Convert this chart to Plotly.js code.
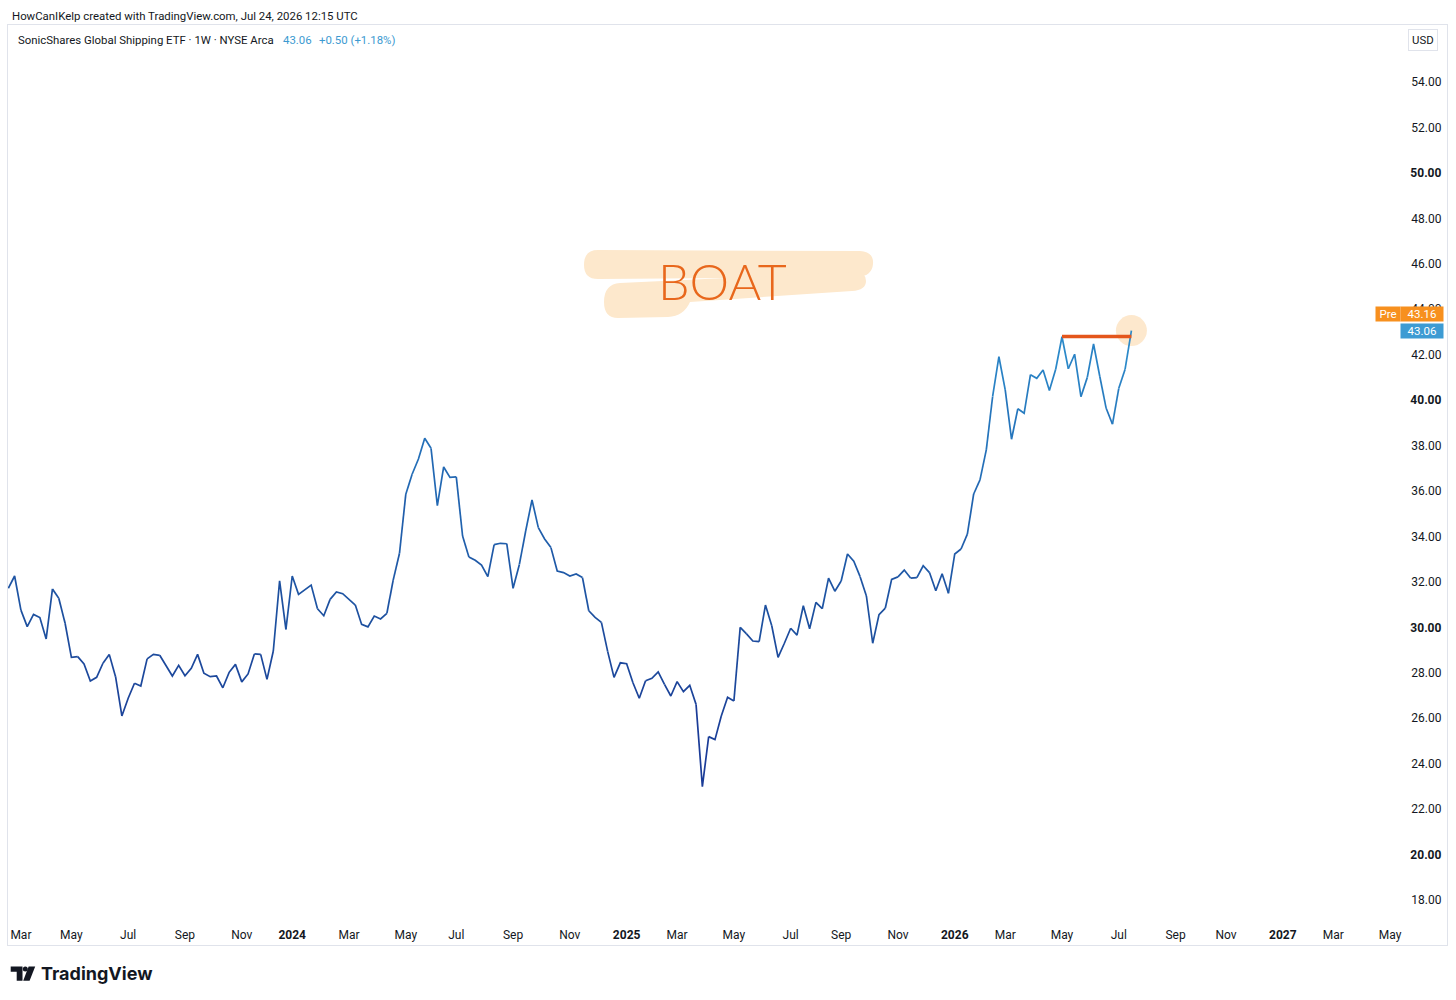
<!DOCTYPE html>
<html>
<head>
<meta charset="utf-8">
<script src="https://cdn.plot.ly/plotly-3.0.1.min.js"></script>
<style>
  html, body { margin: 0; padding: 0; background: #ffffff; }
  #chart { width: 1456px; height: 1000px; }
</style>
</head>
<body>
<div id="chart"></div>
<script>
// ---- Data (weekly closes) ----
const startDate = '2023-02-20'; // first weekly bar (Monday)
const prices = [
  31.72, 32.26, 30.76, 30.03, 30.57, 30.43, 29.49, 31.69, 31.28, 30.18,
  28.68, 28.71, 28.39, 27.64, 27.80, 28.42, 28.81, 27.83, 26.10, 26.88,
  27.54, 27.42, 28.61, 28.81, 28.77, 28.31, 27.86, 28.33, 27.87, 28.20,
  28.81, 27.98, 27.83, 27.86, 27.34, 28.02, 28.37, 27.60, 27.95, 28.83,
  28.81, 27.71, 28.96, 32.05, 29.91, 32.26, 31.45, 31.64, 31.86, 30.82,
  30.51, 31.23, 31.56, 31.48, 31.25, 30.98, 30.13, 30.02, 30.50, 30.37,
  30.62, 32.08, 33.26, 35.86, 36.74, 37.41, 38.32, 37.88, 35.36, 37.06,
  36.60, 36.62, 34.02, 33.10, 32.95, 32.74, 32.23, 33.64, 33.70, 33.68,
  31.72, 32.77, 34.24, 35.61, 34.39, 33.89, 33.51, 32.48, 32.41, 32.26,
  32.35, 32.19, 30.73, 30.44, 30.22, 28.93, 27.80, 28.44, 28.40, 27.56,
  26.88, 27.65, 27.76, 28.04, 27.49, 26.98, 27.61, 27.17, 27.45, 26.61,
  22.99, 25.19, 25.06, 26.10, 26.92, 26.76, 30.00, 29.71, 29.40, 29.37,
  30.98, 30.07, 28.68, 29.30, 29.96, 29.66, 30.95, 29.94, 31.10, 30.82,
  32.17, 31.59, 32.04, 33.23, 32.91, 32.23, 31.38, 29.30, 30.56, 30.85,
  32.11, 32.22, 32.52, 32.17, 32.19, 32.71, 32.41, 31.61, 32.36, 31.50,
  33.23, 33.45, 34.10, 35.87, 36.49, 37.81, 40.15, 41.91, 40.45, 38.28,
  39.62, 39.42, 41.12, 40.96, 41.33, 40.42, 41.36, 42.79, 41.38, 42.02,
  40.15, 40.99, 42.47, 41.03, 39.64, 38.94, 40.52, 41.36, 43.06
];
const lastPrice = 43.06;
const prePrice = 43.16;
const changeText = '+0.50 (+1.18%)';
const resistanceLevel = 42.8;
const resistanceStartIndex = 167;

const xTickVals = [
  '2023-03-06','2023-05-01','2023-07-03','2023-09-04','2023-11-06',
  '2024-01-01','2024-03-04','2024-05-06','2024-07-01','2024-09-02','2024-11-04',
  '2025-01-06','2025-03-03','2025-05-05','2025-07-07','2025-09-01','2025-11-03',
  '2026-01-05','2026-03-02','2026-05-04','2026-07-06','2026-09-07','2026-11-02',
  '2027-01-04','2027-03-01','2027-05-03'
];
const xTickText = [
  'Mar','May','Jul','Sep','Nov',
  '<b>2024</b>','Mar','May','Jul','Sep','Nov',
  '<b>2025</b>','Mar','May','Jul','Sep','Nov',
  '<b>2026</b>','Mar','May','Jul','Sep','Nov',
  '<b>2027</b>','Mar','May'
];
const yTickVals = [18,20,22,24,26,28,30,32,34,36,38,40,42,44,46,48,50,52,54];
const yTickText = [
  '18.00','<b>20.00</b>','22.00','24.00','26.00','28.00','<b>30.00</b>','32.00',
  '34.00','36.00','38.00','<b>40.00</b>','42.00','44.00','46.00','48.00',
  '<b>50.00</b>','52.00','54.00'
];

// ---- Derived ----
const DAY = 86400000;
const t0 = Date.parse(startDate + 'T00:00:00Z');
const dates = prices.map((_, i) => new Date(t0 + i * 7 * DAY).toISOString().slice(0, 10));
const lastIdx = prices.length - 1;

// value-based colour of the line (dark navy low -> light blue high)
const cStops = [[23, [26, 56, 150]], [30, [29, 78, 158]], [36, [33, 102, 178]], [43, [44, 140, 203]]];
function colorAt(v) {
  if (v <= cStops[0][0]) return 'rgb(' + cStops[0][1].join(',') + ')';
  for (let k = 1; k < cStops.length; k++) {
    if (v <= cStops[k][0]) {
      const a = cStops[k - 1], b = cStops[k];
      const f = (v - a[0]) / (b[0] - a[0]);
      const c = a[1].map((x, j) => Math.round(x + (b[1][j] - x) * f));
      return 'rgb(' + c.join(',') + ')';
    }
  }
  return 'rgb(' + cStops[cStops.length - 1][1].join(',') + ')';
}

const segs = [];
let cur = null;
for (let i = 0; i < lastIdx; i++) {
  const mid = (prices[i] + prices[i + 1]) / 2;
  const band = Math.round((mid - 22) / 1.2);
  if (!cur || cur.band !== band) {
    cur = { band: band, x: [dates[i]], y: [prices[i]] };
    segs.push(cur);
  }
  cur.x.push(dates[i + 1]);
  cur.y.push(prices[i + 1]);
}

const traces = [];
// highlight circle at the last bar
traces.push({
  type: 'scatter', mode: 'markers',
  x: [dates[lastIdx]], y: [prices[lastIdx]],
  marker: { size: 31, color: 'rgba(253,228,196,0.85)', line: { width: 0 } },
  hoverinfo: 'skip', showlegend: false
});
segs.forEach(s => {
  traces.push({
    type: 'scatter', mode: 'lines', x: s.x, y: s.y,
    line: { color: colorAt(22 + s.band * 1.2), width: 1.7 },
    hoverinfo: 'skip', showlegend: false
  });
});

// ---- pixel helpers for decorations ----
const L = 8, R = 1447, T = 25, B = 945;
const px = x => (x - L) / (R - L);
const py = y => (B - y) / (B - T);
function path(pts) { // pts: array of commands with pixel coords
  return pts.map(c => {
    const cmd = c[0];
    const nums = c.slice(1);
    const out = [];
    for (let k = 0; k < nums.length; k += 2) out.push(px(nums[k]).toFixed(5) + ',' + py(nums[k + 1]).toFixed(5));
    return cmd + out.join(' ');
  }).join(' ') + ' Z';
}

const FONT = 'Roboto, "Liberation Sans", Arial, sans-serif';
const INK = '#131722';
const ORANGE = '#f7901e';
const BLUE = '#3d9bd3';

const shapes = [
  // highlight brush behind "BOAT"
  { type: 'path', xref: 'paper', yref: 'paper', layer: 'below', fillcolor: '#fde8cc', line: { width: 0 },
    path: path([['M', 598, 250], ['L', 860, 251], ['Q', 874, 252, 873, 264], ['Q', 872, 276, 858, 277],
                ['L', 598, 279], ['Q', 584, 279, 584, 265], ['Q', 584, 250, 598, 250]]) },
  { type: 'path', xref: 'paper', yref: 'paper', layer: 'below', fillcolor: '#fde8cc', line: { width: 0 },
    path: path([['M', 620, 283], ['L', 855, 272], ['Q', 866, 272, 866, 281], ['Q', 866, 290, 852, 291],
                ['L', 690, 302], ['Q', 684, 316, 668, 317], ['L', 618, 318], ['Q', 604, 318, 604, 302],
                ['Q', 604, 284, 620, 283]]) },
  // resistance drawing
  { type: 'line', xref: 'x', yref: 'y', x0: dates[resistanceStartIndex], x1: dates[lastIdx],
    y0: resistanceLevel, y1: resistanceLevel, line: { color: '#e4561c', width: 3.5 } },
  // TradingView logo glyph
  { type: 'path', xref: 'paper', yref: 'paper', fillcolor: INK, line: { width: 0 },
    path: path([['M', 10.7, 966.5], ['L', 22.5, 966.5], ['L', 22.5, 980.7], ['L', 16.7, 980.7], ['L', 16.7, 971.7], ['L', 10.7, 971.7]]) },
  { type: 'circle', xref: 'paper', yref: 'paper', fillcolor: INK, line: { width: 0 },
    x0: px(22.8), x1: px(27.8), y0: py(966.6), y1: py(971.6) },
  { type: 'path', xref: 'paper', yref: 'paper', fillcolor: INK, line: { width: 0 },
    path: path([['M', 28.6, 966.5], ['L', 35.2, 966.5], ['L', 29.6, 980.7], ['L', 23.2, 980.7]]) }
];

const annotations = [
  { xref: 'paper', yref: 'paper', x: px(10), y: py(16), xanchor: 'left', yanchor: 'middle', showarrow: false,
    text: 'HowCanIKelp created with TradingView.com, Jul 24, 2026 12:15 UTC', font: { family: FONT, size: 11.4, color: INK } },
  { xref: 'paper', yref: 'paper', x: px(16), y: py(40), xanchor: 'left', yanchor: 'middle', showarrow: false,
    text: 'SonicShares Global Shipping ETF · 1W · NYSE Arca', font: { family: FONT, size: 11.4, color: INK } },
  { xref: 'paper', yref: 'paper', x: px(281), y: py(40), xanchor: 'left', yanchor: 'middle', showarrow: false,
    text: lastPrice.toFixed(2), font: { family: FONT, size: 11.4, color: '#3c9ad1' } },
  { xref: 'paper', yref: 'paper', x: px(317), y: py(40), xanchor: 'left', yanchor: 'middle', showarrow: false,
    text: changeText, font: { family: FONT, size: 11.4, color: '#3c9ad1' } },
  { xref: 'paper', yref: 'paper', x: px(1423), y: py(40), xanchor: 'center', yanchor: 'middle', showarrow: false,
    text: 'USD', font: { family: FONT, size: 11.4, color: INK }, bgcolor: '#ffffff', bordercolor: '#e0e3eb',
    borderwidth: 1, borderpad: 3 },
  // price scale labels
  { xref: 'paper', yref: 'y', x: px(1422), y: lastPrice, xanchor: 'center', yanchor: 'middle', showarrow: false,
    text: lastPrice.toFixed(2), width: 40, height: 12, borderpad: 1, bgcolor: BLUE,
    font: { family: FONT, size: 11.5, color: '#ffffff' } },
  { xref: 'paper', yref: 'y', x: px(1422), y: prePrice, yshift: 14, xanchor: 'center', yanchor: 'middle', showarrow: false,
    text: prePrice.toFixed(2), width: 40, height: 12, borderpad: 1, bgcolor: ORANGE,
    font: { family: FONT, size: 11.5, color: '#ffffff' } },
  { xref: 'paper', yref: 'y', x: px(1387.5), y: prePrice, yshift: 14, xanchor: 'center', yanchor: 'middle', showarrow: false,
    text: 'Pre', width: 22, height: 12, borderpad: 1, bgcolor: ORANGE,
    font: { family: FONT, size: 11.5, color: '#ffffff' } },
  // hand-written label
  { xref: 'paper', yref: 'paper', x: px(722), y: py(281), xanchor: 'center', yanchor: 'middle', showarrow: false,
    text: 'BOAT', font: { family: 'Lato, "Open Sans", sans-serif', size: 50, weight: 300, color: '#e8671c' } },
  // TradingView wordmark
  { xref: 'paper', yref: 'paper', x: px(38.5), y: py(973), xanchor: 'left', yanchor: 'middle', showarrow: false,
    text: 'TradingView', font: { family: 'Inter, Roboto, sans-serif', size: 18, weight: 700, color: INK } }
];

const layout = {
  width: 1456, height: 1000,
  margin: { l: L, r: 1456 - R, t: T, b: 1000 - B, pad: 0 },
  paper_bgcolor: '#ffffff', plot_bgcolor: '#ffffff',
  font: { family: FONT, size: 12, color: INK },
  showlegend: false, hovermode: false,
  xaxis: {
    type: 'date', range: ['2023-02-19 16:00', '2027-07-05 03:00'],
    tickmode: 'array', tickvals: xTickVals, ticktext: xTickText,
    ticklabelposition: 'inside', ticklabelstandoff: 3, ticks: '', showgrid: false, zeroline: false,
    showline: true, mirror: true, linecolor: '#e0e3eb', linewidth: 1,
    tickfont: { family: FONT, size: 12, color: INK }, fixedrange: true
  },
  yaxis: {
    side: 'right', range: [16.02, 56.51],
    tickmode: 'array', tickvals: yTickVals, ticktext: yTickText,
    ticklabelposition: 'inside', ticklabelstandoff: 5, ticks: '', showgrid: false, zeroline: false,
    showline: true, mirror: true, linecolor: '#e0e3eb', linewidth: 1,
    tickfont: { family: FONT, size: 12, color: INK }, fixedrange: true
  },
  shapes: shapes,
  annotations: annotations
};

Plotly.newPlot('chart', traces, layout, { staticPlot: true, displayModeBar: false });
</script>
</body>
</html>
